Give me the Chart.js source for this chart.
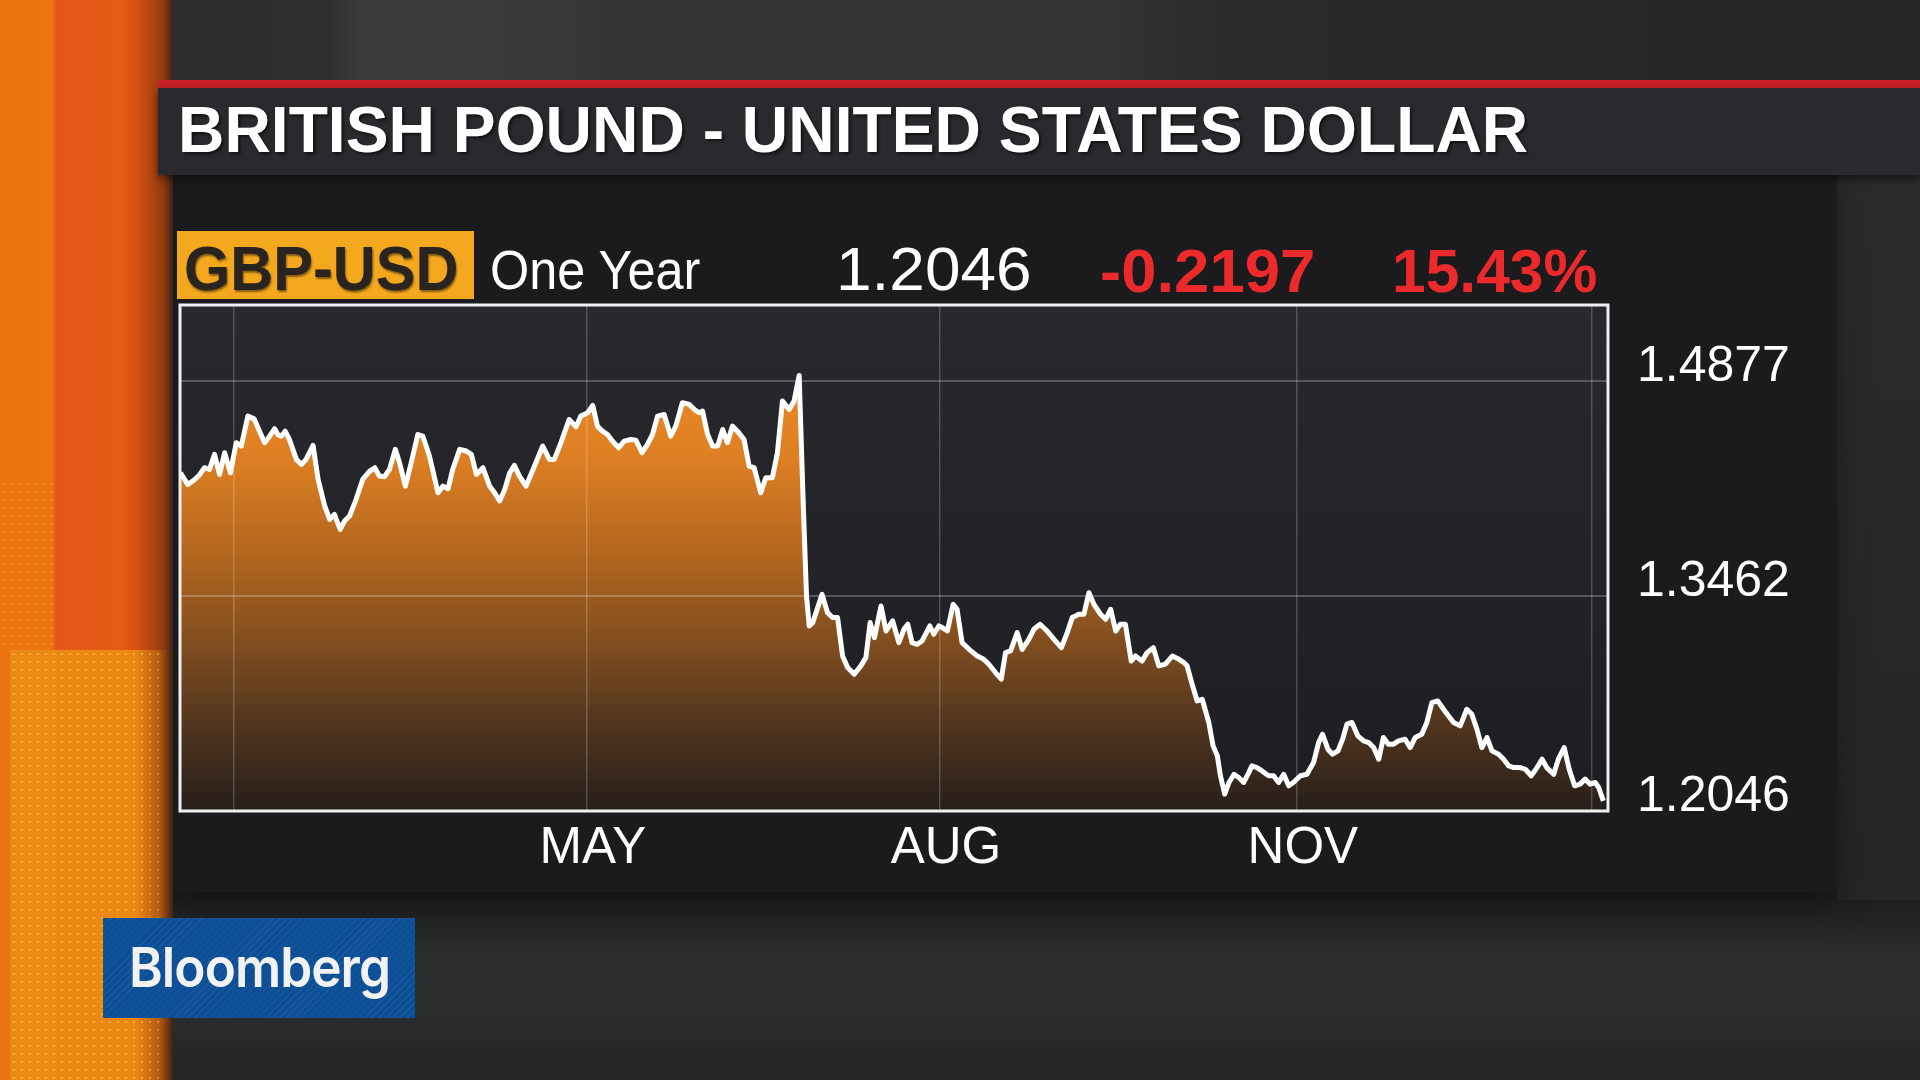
<!DOCTYPE html>
<html lang="en">
<head>
<meta charset="UTF-8">
<title>British Pound - United States Dollar</title>
<script src="https://cdn.jsdelivr.net/npm/chart.js"></script>
<style>
  html, body { margin: 0; padding: 0; }
  body { width: 1920px; height: 1080px; position: relative; overflow: hidden; background: #242426; font-family: 'Liberation Sans', Arial, sans-serif; }
  .abs { position: absolute; }
  .txt { position: absolute; white-space: nowrap; line-height: 1; transform-origin: 0 0; }
</style>
</head>
<body>
  <!-- backdrop -->
  <div class="abs" style="left:0;top:0;width:1920px;height:90px;background:linear-gradient(90deg,#2c2c2e 0,#2f2f31 330px,#3b3b3d 360px,#3a3a3c 560px,#353537 600px,#343436 1100px,#2a2a2b 1230px,#262627 1920px);"></div>
  <div class="abs" style="left:0;top:890px;width:1920px;height:190px;background:linear-gradient(180deg,#1c1c1e 0,#2a2b2c 60px,#2d2e2f 110px,#232425 190px);"></div>
  <div class="abs" style="left:1837px;top:170px;width:83px;height:730px;background:linear-gradient(180deg,#2b2b2c,#262627);"></div>
  <div class="abs" style="left:172px;top:170px;width:1665px;height:722px;background:#1b1b1d;box-shadow:0 10px 30px rgba(0,0,0,0.35);"></div>

  <!-- orange strip on the left -->
  <div class="abs" style="left:0;top:0;width:173px;height:1080px;background:linear-gradient(90deg,#ec7410 0,#ec7612 52px,#e55719 56px,#e45c17 120px,#d24e12 140px,#8e3a10 164px,#3a2418 173px);"></div>
  <div class="abs" style="left:0;top:480px;width:53px;height:170px;background-image:radial-gradient(rgba(255,190,60,0.35) 1.2px,transparent 1.6px);background-size:8px 8px;"></div>
  <div class="abs" style="left:10px;top:650px;width:163px;height:430px;background:linear-gradient(90deg,rgba(236,140,20,0.95) 0,rgba(236,140,20,0.95) 125px,rgba(180,90,15,0.9) 150px,rgba(60,35,20,0.9) 163px);"></div>
  <div class="abs" style="left:10px;top:650px;width:150px;height:430px;background-image:radial-gradient(rgba(255,200,80,0.45) 1.2px,transparent 1.6px);background-size:8px 8px;"></div>

  <!-- title bar -->
  <div class="abs" style="left:158px;top:80px;width:1762px;height:8px;background:#c81f2a;"></div>
  <div class="abs" style="left:158px;top:88px;width:1762px;height:87px;background:#2a2a2e;box-shadow:0 4px 8px rgba(0,0,0,0.5);"></div>
  <div class="txt fit" data-w="1350" style="left:178px;top:98px;font-size:64px;font-weight:bold;color:#fff;text-shadow:2px 2px 3px rgba(0,0,0,0.6);">BRITISH POUND - UNITED STATES DOLLAR</div>

  <!-- header row -->
  <div class="abs" style="left:177px;top:231px;width:297px;height:68px;background:#f3a81d;"></div>
  <div class="txt fit" data-w="275" style="left:184px;top:237px;font-size:63px;font-weight:bold;color:#2a2420;text-shadow:1px 2px 2px rgba(0,0,0,0.45);">GBP-USD</div>
  <div class="txt fit" data-w="210" style="left:490px;top:243px;font-size:55px;color:#fff;">One Year</div>
  <div class="txt fit" data-w="196" style="left:836px;top:239px;font-size:61px;color:#fff;">1.2046</div>
  <div class="txt fit" data-w="215" style="left:1100px;top:240px;font-size:62px;font-weight:bold;color:#ec2a2c;">-0.2197</div>
  <div class="txt fit" data-w="205" style="left:1392px;top:240px;font-size:62px;font-weight:bold;color:#ec2a2c;">15.43%</div>

  <!-- chart -->
  <canvas id="fxChart" width="1667" height="654" style="position:absolute;left:170px;top:246px;"></canvas>

  <!-- logo -->
  <div class="abs" style="left:103px;top:918px;width:312px;height:100px;background:#0d4f97;background-image:repeating-linear-gradient(135deg,rgba(255,255,255,0.06) 0,rgba(255,255,255,0.06) 1px,transparent 1px,transparent 5px);"></div>
  <div class="txt fit" data-w="261" style="left:129px;top:940px;font-family:Inter,'Noto Sans',sans-serif;font-size:55px;font-weight:600;letter-spacing:-1px;color:#f2f2f2;">Bloomberg</div>

<script>
// GBP-USD close, one year; x = days since 1 Jan 2016
const days = [
  17.2, 19.1, 20.9, 22.2, 23.4, 24.7, 26.0, 27.3, 28.6, 30.1, 31.6, 32.9, 34.6, 36.2, 37.6, 38.9,
  40.2, 41.5, 42.3, 43.2, 44.2, 45.3, 47.1, 48.4, 49.6, 51.4, 52.7, 54.4, 55.7, 56.9, 58.4, 59.5,
  60.8, 62.5, 64.2, 66.0, 67.3, 68.5, 69.8, 71.1, 72.6, 73.7, 75.2, 76.7, 78.4, 79.7, 81.4, 83.6,
  84.9, 86.2, 87.4, 89.2, 90.9, 92.2, 93.5, 95.2, 96.9, 98.2, 99.5, 100.8, 102.1, 103.3, 104.6, 106.3,
  108.1, 110.6, 112.3, 113.6, 115.3, 117.4, 119.2, 120.4, 122.2, 123.5, 124.7, 126.0, 127.3, 128.6, 130.2, 131.6,
  133.3, 134.6, 136.2, 137.6, 138.9, 140.2, 141.9, 143.6, 144.9, 146.6, 148.4, 149.7, 150.9, 151.8, 153.1, 154.4,
  155.7, 157.0, 158.2, 159.5, 160.8, 162.5, 163.8, 165.1, 166.8, 168.1, 169.8, 171.1, 172.4, 174.1, 175.4, 176.7,
  177.8, 178.6, 179.3, 180.2, 182.6, 184.0, 185.3, 186.6, 187.9, 189.2, 190.9, 192.6, 193.9, 195.0, 196.1, 197.8,
  199.1, 200.8, 202.4, 203.7, 204.7, 205.8, 207.1, 208.4, 210.4, 211.4, 212.7, 213.6, 214.9, 216.4, 217.4, 218.7,
  220.5, 222.6, 224.3, 225.6, 227.3, 228.8, 229.9, 231.2, 232.9, 234.2, 235.9, 237.2, 238.8, 240.6, 242.4, 244.3,
  245.8, 247.1, 248.8, 250.1, 251.4, 252.7, 254.4, 255.7, 257.0, 258.3, 259.5, 260.8, 262.3, 263.4, 265.1, 266.4,
  268.0, 269.4, 271.1, 272.9, 274.6, 275.9, 276.7, 278.0, 279.3, 280.6, 282.3, 283.4, 284.5, 285.3, 286.4, 287.5,
  288.8, 290.0, 291.3, 292.6, 293.4, 294.7, 296.0, 297.7, 299.0, 300.3, 301.6, 302.9, 304.1, 305.9, 307.6, 309.3,
  310.6, 311.6, 313.0, 314.2, 315.6, 316.8, 317.9, 319.2, 320.7, 322.2, 323.5, 324.8, 326.1, 327.3, 328.6, 329.9,
  331.2, 332.9, 334.2, 335.5, 337.2, 338.5, 339.8, 341.3, 342.8, 344.1, 345.4, 347.1, 348.8, 350.1, 351.4, 352.7,
  354.0, 355.3, 357.0, 358.3, 359.6, 360.9, 362.6, 363.9, 365.4, 366.9, 368.2, 369.4, 371.2, 372.4, 373.9, 375.2,
  376.6, 378.0, 379.3, 380.6, 381.9, 382.8, 384.0
];
const rates = [
  1.4274, 1.4197, 1.4230, 1.4263, 1.4307, 1.4296, 1.4395, 1.4263, 1.4406, 1.4274, 1.4472, 1.4450, 1.4647, 1.4629, 1.4548, 1.4472,
  1.4515, 1.4564, 1.4526, 1.4515, 1.4548, 1.4493, 1.4362, 1.4329, 1.4362, 1.4454, 1.4230, 1.4055, 1.3967, 1.4000, 1.3901, 1.3956,
  1.3989, 1.4099, 1.4230, 1.4285, 1.4307, 1.4252, 1.4248, 1.4296, 1.4428, 1.4340, 1.4186, 1.4340, 1.4526, 1.4515, 1.4384, 1.4142,
  1.4186, 1.4169, 1.4296, 1.4428, 1.4417, 1.4395, 1.4263, 1.4307, 1.4186, 1.4142, 1.4088, 1.4164, 1.4274, 1.4322, 1.4252, 1.4186,
  1.4296, 1.4450, 1.4362, 1.4362, 1.4472, 1.4625, 1.4577, 1.4647, 1.4669, 1.4717, 1.4581, 1.4548, 1.4526, 1.4482, 1.4439, 1.4482,
  1.4493, 1.4489, 1.4406, 1.4461, 1.4526, 1.4647, 1.4658, 1.4515, 1.4581, 1.4735, 1.4724, 1.4691, 1.4669, 1.4680, 1.4526, 1.4450,
  1.4450, 1.4559, 1.4472, 1.4581, 1.4548, 1.4493, 1.4318, 1.4307, 1.4142, 1.4241, 1.4241, 1.4406, 1.4746, 1.4691, 1.4746, 1.4915,
  1.4033, 1.3462, 1.3265, 1.3287, 1.3473, 1.3353, 1.3320, 1.3320, 1.3067, 1.2991, 1.2947, 1.3002, 1.3056, 1.3287, 1.3188, 1.3396,
  1.3232, 1.3298, 1.3155, 1.3243, 1.3276, 1.3155, 1.3144, 1.3166, 1.3265, 1.3210, 1.3265, 1.3254, 1.3232, 1.3407, 1.3375, 1.3155,
  1.3111, 1.3067, 1.3045, 1.3013, 1.2958, 1.2914, 1.3089, 1.3100, 1.3221, 1.3111, 1.3177, 1.3243, 1.3276, 1.3232, 1.3177, 1.3122,
  1.3221, 1.3320, 1.3342, 1.3342, 1.3484, 1.3407, 1.3342, 1.3309, 1.3375, 1.3232, 1.3276, 1.3276, 1.3034, 1.3067, 1.3034, 1.3089,
  1.3122, 1.3002, 1.3013, 1.3067, 1.3045, 1.3023, 1.3002, 1.2881, 1.2771, 1.2782, 1.2629, 1.2475, 1.2409, 1.2278, 1.2157, 1.2234,
  1.2288, 1.2267, 1.2234, 1.2299, 1.2343, 1.2332, 1.2310, 1.2278, 1.2278, 1.2234, 1.2288, 1.2212, 1.2234, 1.2278, 1.2288, 1.2365,
  1.2497, 1.2552, 1.2453, 1.2420, 1.2442, 1.2519, 1.2618, 1.2629, 1.2541, 1.2508, 1.2497, 1.2464, 1.2387, 1.2530, 1.2486, 1.2486,
  1.2508, 1.2519, 1.2464, 1.2530, 1.2552, 1.2629, 1.2760, 1.2771, 1.2716, 1.2672, 1.2629, 1.2607, 1.2716, 1.2683, 1.2585, 1.2464,
  1.2530, 1.2442, 1.2420, 1.2387, 1.2343, 1.2332, 1.2332, 1.2321, 1.2278, 1.2332, 1.2387, 1.2332, 1.2288, 1.2387, 1.2464, 1.2321,
  1.2212, 1.2223, 1.2256, 1.2223, 1.2234, 1.2201, 1.2113
];

// vertical grid lines (1 Feb, 1 May, 1 Aug, 1 Nov, mid Jan) and their labels
const gridDays = [31, 122, 213, 305, 381];
const monthLabels = ['', 'MAY', 'AUG', 'NOV', ''];
// price levels shown on the right
const priceTicks = [1.2046, 1.3462, 1.4877];
const priceMin = 1.2046;
const priceMax = 1.5379;

// squeeze the condensed broadcast type into its box
document.querySelectorAll('.fit').forEach(el => {
    const k = Number(el.dataset.w) / el.offsetWidth;
    el.style.transform = 'scaleX(' + k + ')';
});

Chart.defaults.font.family = "'Liberation Sans', Arial, sans-serif";

// plot background and the white frame
const frame = {
    id: 'frame',
    beforeDraw(chart) {
        const a = chart.chartArea, ctx = chart.ctx;
        const g = ctx.createLinearGradient(0, a.top, 0, a.bottom);
        g.addColorStop(0, '#27292e');
        g.addColorStop(1, '#1d1e21');
        ctx.save();
        ctx.fillStyle = g;
        ctx.fillRect(a.left, a.top, a.right - a.left, a.bottom - a.top);
        ctx.restore();
    },
    afterDraw(chart) {
        const a = chart.chartArea, ctx = chart.ctx;
        ctx.save();
        ctx.strokeStyle = '#f0f0f0';
        ctx.lineWidth = 3;
        ctx.strokeRect(a.left, a.top, a.right - a.left, a.bottom - a.top);
        ctx.restore();
    }
};

const ctx = document.getElementById('fxChart').getContext('2d');
const fxChart = new Chart(ctx, {
    type: 'line',
    data: {
        datasets: [{
            data: days.map((d, i) => ({ x: d, y: rates[i] })),
            borderColor: '#ffffff',
            borderWidth: 5,
            borderJoinStyle: 'round',
            pointRadius: 0,
            tension: 0,
            fill: 'start',
            backgroundColor: (c) => {
                const a = c.chart.chartArea;
                if (!a) return 'rgba(0,0,0,0)';
                const g = c.chart.ctx.createLinearGradient(0, a.top, 0, a.bottom);
                g.addColorStop(0, '#f39029');
                g.addColorStop(0.3, '#de7f23');
                g.addColorStop(0.5, '#b1661f');
                g.addColorStop(0.65, '#86501f');
                g.addColorStop(0.8, '#5a3a1f');
                g.addColorStop(1, '#261e1b');
                return g;
            }
        }]
    },
    options: {
        responsive: false,
        animation: false,
        // the right axis asks for 59px above the plot, which sets the top edge
        layout: { padding: { left: 10, top: 0, right: 0, bottom: 0 } },
        plugins: {
            legend: { display: false },
            tooltip: { enabled: false }
        },
        scales: {
            x: {
                type: 'linear',
                min: 17.1,
                max: 385.2,
                afterBuildTicks: s => { s.ticks = gridDays.map(v => ({ value: v })); },
                afterFit: s => { s.height = 89; },
                grid: { z: 1, color: 'rgba(255,255,255,0.2)', lineWidth: 1.5, drawTicks: false },
                border: { display: false },
                ticks: {
                    color: '#ffffff',
                    font: { size: 51 },
                    padding: 7,
                    labelOffset: 6,
                    maxRotation: 0,
                    autoSkip: false,
                    callback: (v, i) => monthLabels[i]
                }
            },
            y: {
                position: 'right',
                min: priceMin,
                max: priceMax,
                afterBuildTicks: s => { s.ticks = priceTicks.map(v => ({ value: v })); },
                afterFit: s => { s.width = 229; },
                grid: { z: 1, color: 'rgba(255,255,255,0.24)', lineWidth: 2, drawTicks: false },
                border: { display: false },
                ticks: {
                    color: '#ffffff',
                    font: { size: 50 },
                    padding: 29,
                    labelOffset: -14,
                    callback: v => v.toFixed(4)
                }
            }
        }
    },
    plugins: [frame]
});
</script>
</body>
</html>
